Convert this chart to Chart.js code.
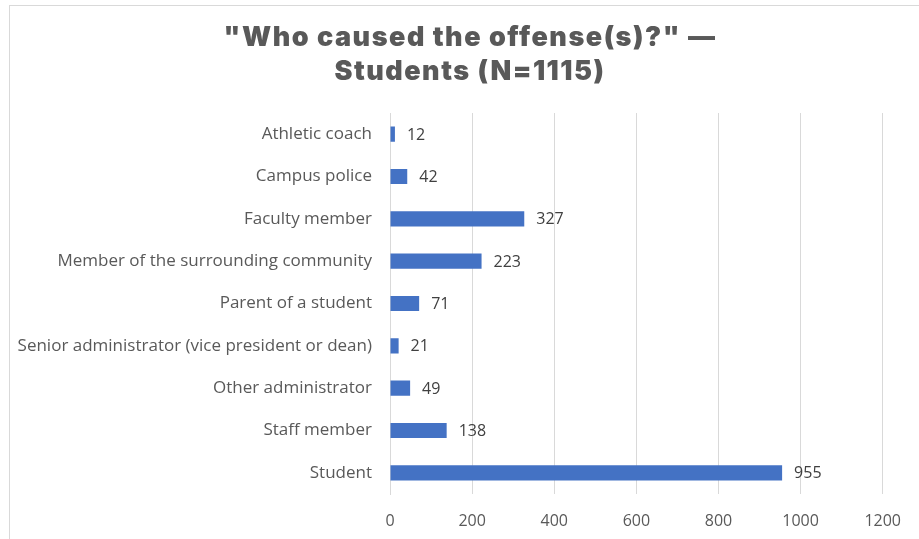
<!DOCTYPE html>
<html>
<head>
<meta charset="utf-8">
<script src="https://cdn.jsdelivr.net/npm/chart.js@4"></script>
<style>
  html, body { margin: 0; padding: 0; background: #fff; }
  #wrap { position: relative; width: 919px; height: 539px; overflow: hidden; }
  #frame { position: absolute; left: 9px; top: 5px; width: 1000px; height: 1000px; border: 1px solid #d9d9d9; }
  canvas { position: absolute; left: 0; top: 0; }
</style>
</head>
<body>
<div id="wrap">
  <div id="frame"></div>
  <canvas id="chart" width="919" height="539"></canvas>
</div>
<script>
// Chart data
const categories = [
    'Athletic coach',
    'Campus police',
    'Faculty member',
    'Member of the surrounding community',
    'Parent of a student',
    'Senior administrator (vice president or dean)',
    'Other administrator',
    'Staff member',
    'Student'
];
const counts = [12, 42, 327, 223, 71, 21, 49, 138, 955];
const titleLines = ['"Who caused the offense(s)?" \u2014', 'Students (N=1115)'];
const axisMin = 0;
const axisMax = 1200;
const axisStep = 200;

// Two-line title, centred a little right of the canvas middle like the original
const titleBlock = {
    id: 'titleBlock',
    afterDraw(chart) {
        const ctx = chart.ctx;
        ctx.save();
        ctx.font = '900 27px Inter';
        ctx.letterSpacing = '1.5px';
        ctx.fillStyle = '#595959';
        ctx.textAlign = 'center';
        ctx.textBaseline = 'alphabetic';
        ctx.fillText(titleLines[0], 470, 46);
        ctx.fillText(titleLines[1], 470, 80);
        ctx.restore();
    }
};

// Value labels to the right of each bar
const valueLabels = {
    id: 'valueLabels',
    afterDatasetsDraw(chart) {
        const ctx = chart.ctx;
        const meta = chart.getDatasetMeta(0);
        ctx.save();
        ctx.font = '16px "Open Sans"';
        ctx.fillStyle = '#404040';
        ctx.textAlign = 'left';
        ctx.textBaseline = 'middle';
        meta.data.forEach((bar, i) => {
            ctx.fillText(String(counts[i]), bar.x + 12, bar.y + 1);
        });
        ctx.restore();
    }
};

const ctx = document.getElementById('chart').getContext('2d');
new Chart(ctx, {
    type: 'bar',
    data: {
        labels: categories,
        datasets: [{
            data: counts,
            backgroundColor: '#4472c4',
            barPercentage: 0.36,
            categoryPercentage: 1
        }]
    },
    options: {
        indexAxis: 'y',
        responsive: false,
        animation: false,
        layout: { padding: { left: 0, right: 35, top: 113, bottom: 0 } },
        plugins: {
            legend: { display: false },
            tooltip: { enabled: false },
            title: { display: false }
        },
        scales: {
            x: {
                min: axisMin,
                max: axisMax,
                ticks: {
                    stepSize: axisStep,
                    color: '#595959',
                    font: { family: 'Open Sans', size: 16 },
                    padding: 18,
                    callback: v => String(v)
                },
                grid: { color: '#d9d9d9', drawTicks: false },
                border: { display: false },
                afterFit(scale) { scale.height = 45; }
            },
            y: {
                ticks: { color: '#595959', font: { family: 'Open Sans', size: 17 }, padding: 18 },
                grid: { display: false, drawTicks: false },
                border: { display: true, color: '#d9d9d9' },
                afterFit(scale) { scale.width = 390; }
            }
        }
    },
    plugins: [valueLabels, titleBlock]
});
</script>
</body>
</html>
